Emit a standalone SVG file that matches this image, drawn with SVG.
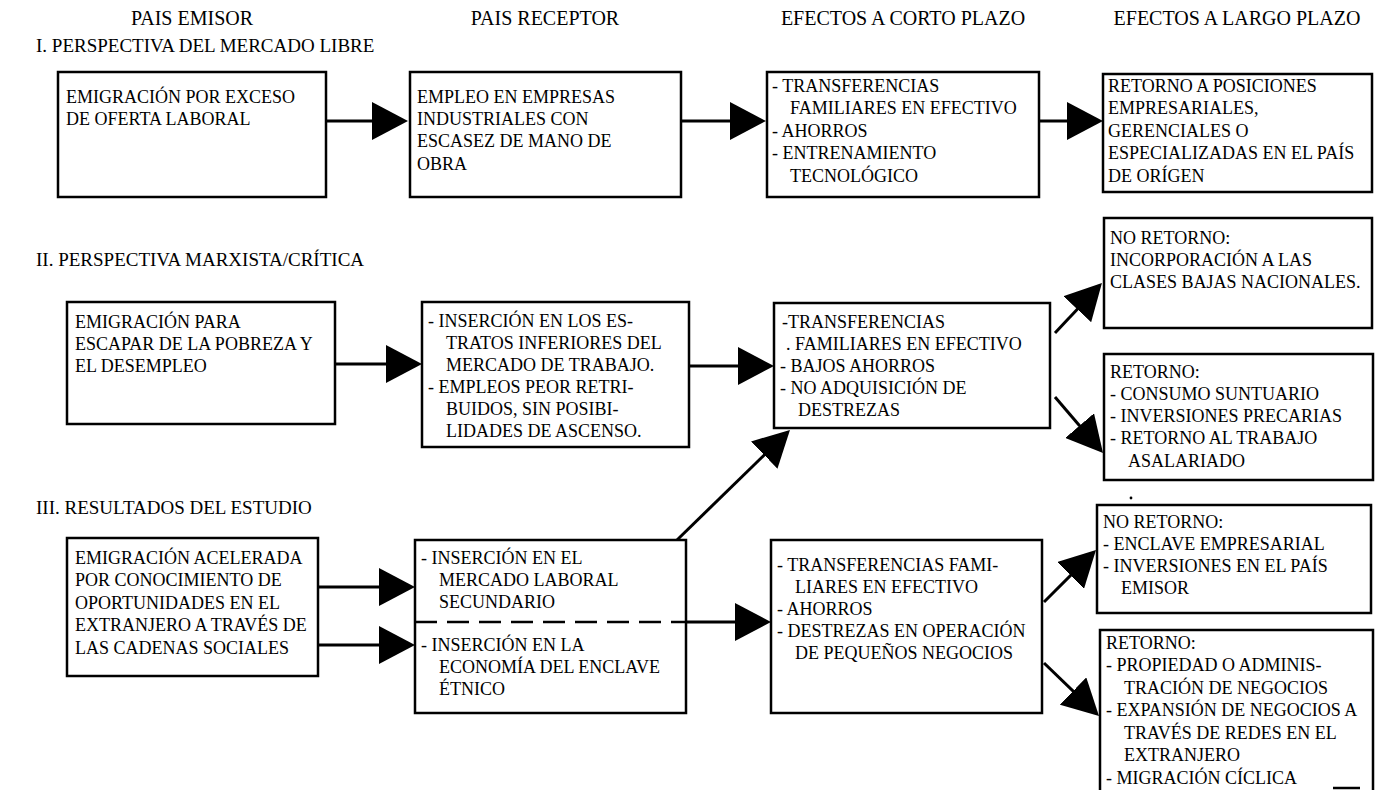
<svg xmlns="http://www.w3.org/2000/svg" width="1376" height="790" viewBox="0 0 1376 790">
<style>
.bx{fill:#fff;stroke:#000;stroke-width:2.5}
.t{font-family:"Liberation Serif","Times New Roman",serif;font-size:18px;fill:#000}
.h{font-family:"Liberation Serif","Times New Roman",serif;font-size:20px;fill:#000;text-anchor:middle}
.s{font-family:"Liberation Serif","Times New Roman",serif;font-size:19px;fill:#000}
.c{stroke:#000;stroke-width:3;fill:none;marker-end:url(#ah)}
.d{stroke:#000;stroke-width:2.5;stroke-dasharray:22 10;fill:none}
</style>
<defs>
<marker id="ah" markerUnits="userSpaceOnUse" markerWidth="36" markerHeight="38" viewBox="0 0 36 38" refX="26" refY="19" orient="auto"><path d="M0,0 L36,19 L0,38 z" fill="#000"/></marker>
</defs>
<rect width="1376" height="790" fill="#fff"/>
<g id="headers">
<text class="h" x="192" y="25">PAIS EMISOR</text>
<text class="h" x="545" y="25">PAIS RECEPTOR</text>
<text class="h" x="903" y="25">EFECTOS A CORTO PLAZO</text>
<text class="h" x="1237" y="25">EFECTOS A LARGO PLAZO</text>
<text class="s" x="36" y="52">I. PERSPECTIVA DEL MERCADO LIBRE</text>
<text class="s" x="36" y="266">II. PERSPECTIVA MARXISTA/CRÍTICA</text>
<text class="s" x="36" y="514">III. RESULTADOS DEL ESTUDIO</text>
</g>
<g id="r1c1"><rect class="bx" x="58" y="72" width="268" height="125"/>
<text class="t" x="66" y="103">EMIGRACIÓN POR EXCESO</text>
<text class="t" x="66" y="125">DE OFERTA LABORAL</text></g>
<g id="r1c2"><rect class="bx" x="410" y="72" width="271" height="125"/>
<text class="t" x="417" y="103">EMPLEO EN EMPRESAS</text>
<text class="t" x="417" y="125">INDUSTRIALES CON</text>
<text class="t" x="417" y="147">ESCASEZ DE MANO DE</text>
<text class="t" x="417" y="170">OBRA</text></g>
<g id="r1c3"><rect class="bx" x="767" y="72" width="272" height="125"/>
<text class="t" x="772" y="92">- TRANSFERENCIAS</text>
<text class="t" x="790" y="114">FAMILIARES EN EFECTIVO</text>
<text class="t" x="772" y="137">- AHORROS</text>
<text class="t" x="772" y="159">- ENTRENAMIENTO</text>
<text class="t" x="790" y="182">TECNOLÓGICO</text></g>
<g id="r1c4"><rect class="bx" x="1103" y="74" width="269" height="118"/>
<text class="t" x="1108" y="92">RETORNO A POSICIONES</text>
<text class="t" x="1108" y="114">EMPRESARIALES,</text>
<text class="t" x="1108" y="137">GERENCIALES O</text>
<text class="t" x="1108" y="159">ESPECIALIZADAS EN EL PAÍS</text>
<text class="t" x="1108" y="182">DE ORÍGEN</text></g>
<g id="r2c1"><rect class="bx" x="67" y="302" width="268" height="122"/>
<text class="t" x="75" y="328">EMIGRACIÓN PARA</text>
<text class="t" x="75" y="350">ESCAPAR DE LA POBREZA Y</text>
<text class="t" x="75" y="372">EL DESEMPLEO</text></g>
<g id="r2c2"><rect class="bx" x="422" y="302" width="267" height="145"/>
<text class="t" x="428" y="327">- INSERCIÓN EN LOS ES-</text>
<text class="t" x="446" y="349">TRATOS INFERIORES DEL</text>
<text class="t" x="446" y="371">MERCADO DE TRABAJO.</text>
<text class="t" x="428" y="393">- EMPLEOS PEOR RETRI-</text>
<text class="t" x="446" y="415">BUIDOS, SIN POSIBI-</text>
<text class="t" x="446" y="437">LIDADES DE ASCENSO.</text></g>
<g id="r2c3"><rect class="bx" x="774" y="303" width="276" height="125"/>
<text class="t" x="782" y="328">-TRANSFERENCIAS</text>
<text class="t" x="786" y="350">. FAMILIARES EN EFECTIVO</text>
<text class="t" x="780" y="372">- BAJOS AHORROS</text>
<text class="t" x="780" y="394">- NO ADQUISICIÓN DE</text>
<text class="t" x="798" y="416">DESTREZAS</text></g>
<g id="r2c4a"><rect class="bx" x="1104" y="218" width="268" height="110"/>
<text class="t" x="1110" y="244">NO RETORNO:</text>
<text class="t" x="1110" y="266">INCORPORACIÓN A LAS</text>
<text class="t" x="1110" y="288">CLASES BAJAS NACIONALES.</text></g>
<g id="r2c4b"><rect class="bx" x="1104" y="354" width="269" height="126"/>
<text class="t" x="1110" y="378">RETORNO:</text>
<text class="t" x="1110" y="400">- CONSUMO SUNTUARIO</text>
<text class="t" x="1110" y="422">- INVERSIONES PRECARIAS</text>
<text class="t" x="1110" y="444">- RETORNO AL TRABAJO</text>
<text class="t" x="1128" y="467">ASALARIADO</text></g>
<g id="r3c1"><rect class="bx" x="67" y="538" width="251" height="138"/>
<text class="t" x="75" y="564">EMIGRACIÓN ACELERADA</text>
<text class="t" x="75" y="586">POR CONOCIMIENTO DE</text>
<text class="t" x="75" y="609">OPORTUNIDADES EN EL</text>
<text class="t" x="75" y="631">EXTRANJERO A TRAVÉS DE</text>
<text class="t" x="75" y="654">LAS CADENAS SOCIALES</text></g>
<g id="r3c2"><rect class="bx" x="415" y="540" width="271" height="173"/>
<line class="d" x1="415" y1="622" x2="686" y2="622"/>
<text class="t" x="421" y="564">- INSERCIÓN EN EL</text>
<text class="t" x="439" y="586">MERCADO LABORAL</text>
<text class="t" x="439" y="608">SECUNDARIO</text>
<text class="t" x="421" y="651">- INSERCIÓN EN LA</text>
<text class="t" x="439" y="673">ECONOMÍA DEL ENCLAVE</text>
<text class="t" x="439" y="695">ÉTNICO</text></g>
<g id="r3c3"><rect class="bx" x="771" y="540" width="271" height="173"/>
<text class="t" x="777" y="571">- TRANSFERENCIAS FAMI-</text>
<text class="t" x="795" y="593">LIARES EN EFECTIVO</text>
<text class="t" x="777" y="615">- AHORROS</text>
<text class="t" x="777" y="637">- DESTREZAS EN OPERACIÓN</text>
<text class="t" x="795" y="659">DE PEQUEÑOS NEGOCIOS</text></g>
<g id="r3c4a"><circle cx="1131" cy="498" r="1.4" fill="#000"/><rect class="bx" x="1097" y="505" width="274" height="108"/>
<text class="t" x="1103" y="528">NO RETORNO:</text>
<text class="t" x="1103" y="550">- ENCLAVE EMPRESARIAL</text>
<text class="t" x="1103" y="572">- INVERSIONES EN EL PAÍS</text>
<text class="t" x="1121" y="594">EMISOR</text></g>
<g id="r3c4b"><path class="bx" d="M1100,794 V630 H1373 V794"/>
<line x1="1333" y1="788" x2="1360" y2="788" stroke="#000" stroke-width="2.5"/>
<text class="t" x="1106" y="649">RETORNO:</text>
<text class="t" x="1106" y="671">- PROPIEDAD O ADMINIS-</text>
<text class="t" x="1124" y="694">TRACIÓN DE NEGOCIOS</text>
<text class="t" x="1106" y="716">- EXPANSIÓN DE NEGOCIOS A</text>
<text class="t" x="1124" y="739">TRAVÉS DE REDES EN EL</text>
<text class="t" x="1124" y="761">EXTRANJERO</text>
<text class="t" x="1106" y="784">- MIGRACIÓN CÍCLICA</text></g>
<g id="connectors">
<line class="c" x1="326" y1="121" x2="398" y2="121"/>
<line class="c" x1="681" y1="121" x2="756" y2="121"/>
<line class="c" x1="1039" y1="121" x2="1093" y2="121"/>
<line class="c" x1="335" y1="364" x2="412" y2="364"/>
<line class="c" x1="689" y1="366" x2="764" y2="366"/>
<line class="c" x1="1055" y1="333" x2="1095.1" y2="290.3"/>
<line class="c" x1="1055" y1="397" x2="1096.5" y2="445.4"/>
<line class="c" x1="318" y1="587" x2="405" y2="587"/>
<line class="c" x1="318" y1="645" x2="405" y2="645"/>
<line class="c" x1="686" y1="622" x2="761" y2="622"/>
<line class="c" x1="677" y1="540" x2="782.8" y2="436.9"/>
<line class="c" x1="1044" y1="602" x2="1088.9" y2="557.1"/>
<line class="c" x1="1044" y1="663" x2="1091.8" y2="709.1"/>
</g>
</svg>
